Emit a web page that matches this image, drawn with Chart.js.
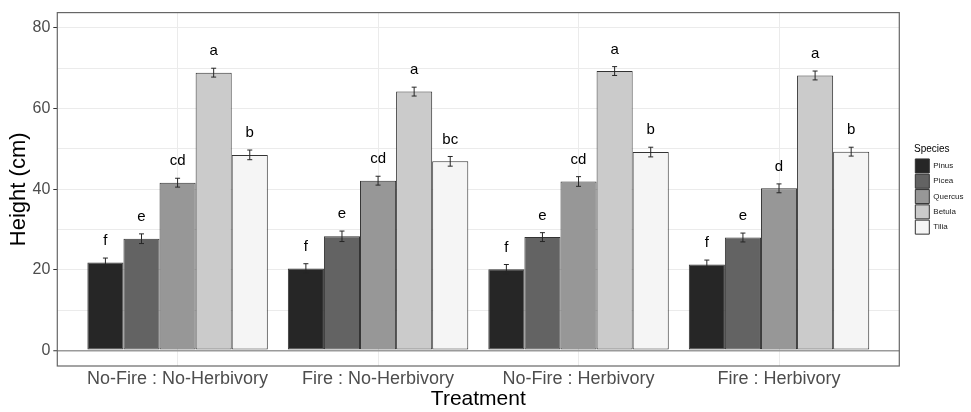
<!DOCTYPE html>
<html>
<head>
<meta charset="utf-8">
<script src="https://cdn.jsdelivr.net/npm/chart.js@4/dist/chart.umd.min.js"></script>
<style>
  html, body { margin: 0; padding: 0; background: #ffffff; }
  #wrap { width: 971px; height: 412px; }
</style>
</head>
<body>
<div id="wrap"><canvas id="heightChart" width="971" height="412"></canvas></div>
<script>
/*
==================================
    Data
==================================
*/
var treatments = ['No-Fire : No-Herbivory', 'Fire : No-Herbivory', 'No-Fire : Herbivory', 'Fire : Herbivory'];
var species = ['Pinus', 'Picea', 'Quercus', 'Betula', 'Tilia'];
var yTicks = [0, 10, 20, 30, 40, 50, 60, 70, 80];

// mean height per treatment
var pinus   = [21.8, 20.3, 20.1, 21.3];
var picea   = [27.7, 28.3, 28.1, 28.0];
var quercus = [41.6, 42.1, 41.9, 40.2];
var betula  = [68.9, 64.2, 69.3, 68.2];
var tilia   = [48.5, 46.9, 49.2, 49.3];

// standard errors
var pinusSe   = [1.1, 1.2, 1.2, 1.1];
var piceaSe   = [1.2, 1.3, 1.1, 1.1];
var quercusSe = [1.1, 1.1, 1.2, 1.1];
var betulaSe  = [1.1, 1.1, 1.1, 1.1];
var tiliaSe   = [1.2, 1.2, 1.2, 1.1];

// significance letters
var pinusLetters   = ['f', 'f', 'f', 'f'];
var piceaLetters   = ['e', 'e', 'e', 'e'];
var quercusLetters = ['cd', 'cd', 'cd', 'd'];
var betulaLetters  = ['a', 'a', 'a', 'a'];
var tiliaLetters   = ['b', 'bc', 'b', 'b'];

var means   = [pinus, picea, quercus, betula, tilia];
var ses     = [pinusSe, piceaSe, quercusSe, betulaSe, tiliaSe];
var letters = [pinusLetters, piceaLetters, quercusLetters, betulaLetters, tiliaLetters];
var fills   = ['#262626', '#636363', '#979797', '#cbcbcb', '#f5f5f5'];

var FONT = "'Liberation Sans', Arial, sans-serif";

/*
==================================
    Plugins
==================================
*/
// error bars + letters on top of each bar
var barExtras = {
    id: 'barExtras',
    afterDatasetsDraw: function(chart) {
        var ctx = chart.ctx;
        var yScale = chart.scales.y;
        ctx.save();
        for (var d = 0; d < means.length; d++) {
            var meta = chart.getDatasetMeta(d);
            meta.data.forEach(function(bar, i) {
                var m = means[d][i], s = ses[d][i];
                var yTop = yScale.getPixelForValue(m + s);
                var yBot = yScale.getPixelForValue(m - s);
                ctx.strokeStyle = '#262626';
                ctx.lineWidth = 1;
                ctx.beginPath();
                ctx.moveTo(bar.x, yTop);
                ctx.lineTo(bar.x, yBot);
                ctx.moveTo(bar.x - 2.5, yTop);
                ctx.lineTo(bar.x + 2.5, yTop);
                ctx.moveTo(bar.x - 2.5, yBot);
                ctx.lineTo(bar.x + 2.5, yBot);
                ctx.stroke();

                ctx.fillStyle = '#000000';
                ctx.font = '15px ' + FONT;
                ctx.textAlign = 'center';
                ctx.textBaseline = 'alphabetic';
                ctx.fillText(letters[d][i], bar.x, yScale.getPixelForValue(m + s + 3.2));
            });
        }
        ctx.restore();
    }
};

// panel border
var panelBorder = {
    id: 'panelBorder',
    afterDraw: function(chart) {
        var a = chart.chartArea;
        var ctx = chart.ctx;
        ctx.save();
        ctx.strokeStyle = '#666666';
        ctx.lineWidth = 1.2;
        ctx.strokeRect(a.left, a.top, a.right - a.left, a.bottom - a.top);
        ctx.restore();
    }
};

/*
==================================
    Chart
==================================
*/
var datasets = species.map(function(name, d) {
    return {
        label: name,
        data: means[d].map(function(v, i) { return {x: i + 1, y: v}; }),
        backgroundColor: fills[d],
        borderColor: '#333333',
        borderWidth: 1,
        borderSkipped: false,
        categoryPercentage: 0.9,
        barPercentage: 1.0
    };
});

var ctx = document.getElementById('heightChart');
var heightChart = new Chart(ctx, {
    type: 'bar',
    data: { datasets: datasets },
    plugins: [barExtras, panelBorder],
    options: {
        responsive: false,
        devicePixelRatio: 1,
        animation: false,
        layout: { padding: { top: 4.7, left: 6, right: 0, bottom: 0 } },
        plugins: {
            tooltip: { enabled: false },
            legend: {
                position: 'right',
                fullSize: false,
                align: 'center',
                maxWidth: 57,
                title: {
                    display: true,
                    text: 'Species',
                    position: 'start',
                    color: '#000000',
                    font: { family: FONT, size: 10 },
                    padding: { top: 1.5, bottom: 1 }
                },
                labels: {
                    boxWidth: 14,
                    boxHeight: 14,
                    padding: 1.3,
                    color: '#1a1a1a',
                    font: { family: FONT, size: 8 }
                }
            }
        },
        scales: {
            x: {
                type: 'linear',
                min: 0.4,
                max: 4.6,
                bounds: 'data',
                offset: false,
                afterBuildTicks: function(scale) {
                    scale.ticks = treatments.map(function(t, i) { return {value: i + 1}; });
                },
                afterFit: function(scale) { scale.height = 46; },
                grid: {
                    offset: false,
                    color: '#ebebeb',
                    lineWidth: 1,
                    drawTicks: true,
                    tickLength: 4,
                    tickColor: 'rgba(0,0,0,0)'
                },
                border: { display: false },
                ticks: {
                    autoSkip: false,
                    maxRotation: 0,
                    padding: 0,
                    color: '#4d4d4d',
                    font: { family: FONT, size: 18, lineHeight: 1 },
                    callback: function(value) { return treatments[value - 1]; }
                },
                title: {
                    display: true,
                    text: 'Treatment',
                    color: '#000000',
                    font: { family: FONT, size: 21, lineHeight: 1.2 },
                    padding: 0
                }
            },
            y: {
                type: 'linear',
                min: -3.88,
                max: 83.8,
                bounds: 'data',
                afterBuildTicks: function(scale) {
                    scale.ticks = yTicks.map(function(v) { return {value: v}; });
                },
                afterFit: function(scale) { scale.width = 51.3; },
                grid: {
                    color: function(c) {
                        if (c.tick && c.tick.value === 0) return '#9a9a9a';
                        return '#ebebeb';
                    },
                    lineWidth: function(c) {
                        return (c.tick && c.tick.value === 0) ? 1.5 : 1;
                    },
                    drawTicks: true,
                    tickLength: 4,
                    tickColor: function(c) {
                        return (c.tick && c.tick.value % 20 === 0) ? '#333333' : 'rgba(0,0,0,0)';
                    },
                    tickWidth: 1
                },
                border: { display: false },
                ticks: {
                    autoSkip: false,
                    padding: 3,
                    color: '#4d4d4d',
                    font: { family: FONT, size: 16 },
                    callback: function(value) { return value % 20 === 0 ? value : ''; }
                },
                title: {
                    display: true,
                    text: 'Height (cm)',
                    color: '#000000',
                    font: { family: FONT, size: 22, lineHeight: 1.2 },
                    padding: 0
                }
            },
            // spacer between the panel and the legend
            gap: {
                type: 'linear',
                position: 'right',
                display: true,
                grid: { display: false },
                border: { display: false },
                ticks: { display: false },
                afterFit: function(scale) { scale.width = 14.7; }
            }
        }
    }
});
</script>
</body>
</html>
